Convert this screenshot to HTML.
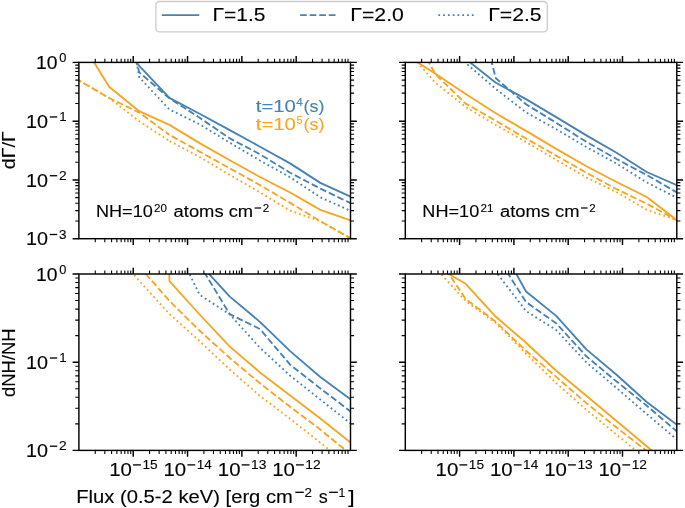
<!DOCTYPE html>
<html><head><meta charset="utf-8"><style>
html,body{margin:0;padding:0;background:#fff;width:685px;height:508px;overflow:hidden}
svg{display:block}
text{font-family:"Liberation Sans",sans-serif}
svg{will-change:transform}
</style></head><body>
<svg width="685" height="508" viewBox="0 0 685 508">
<defs>
<clipPath id="c00"><rect x="78.9" y="62.4" width="271.60" height="176.30"/></clipPath>
<clipPath id="c01"><rect x="405.3" y="62.4" width="271.50" height="176.30"/></clipPath>
<clipPath id="c10"><rect x="78.9" y="274.0" width="271.60" height="176.40"/></clipPath>
<clipPath id="c11"><rect x="405.3" y="274.0" width="271.50" height="176.40"/></clipPath>
</defs>
<path d="M109.08,27.00 L139.26,65.90 L169.43,97.90 L199.61,113.70 L229.79,130.10 L259.97,146.70 L290.14,163.40 L320.32,182.90 L350.50,196.70" fill="none" stroke="#4682b4" stroke-width="1.85" stroke-linejoin="round" stroke-linecap="butt" clip-path="url(#c00)"/>
<path d="M109.08,-39.00 L139.26,72.40 L169.43,98.30 L199.61,117.70 L229.79,138.40 L259.97,154.20 L290.14,172.70 L320.32,188.60 L350.50,203.10" fill="none" stroke="#4682b4" stroke-width="1.85" stroke-linejoin="round" stroke-linecap="butt" stroke-dasharray="6.68 2.89" stroke-dashoffset="3.875" clip-path="url(#c00)"/>
<path d="M109.08,-98.00 L139.26,77.30 L169.43,109.50 L199.61,124.30 L229.79,142.70 L259.97,160.50 L290.14,177.30 L320.32,197.30 L350.50,210.80" fill="none" stroke="#4682b4" stroke-width="1.85" stroke-linejoin="round" stroke-linecap="butt" stroke-dasharray="1.81 2.98" stroke-dashoffset="0.649" clip-path="url(#c00)"/>
<path d="M78.90,37.70 L109.08,86.70 L139.26,111.20 L169.43,124.90 L199.61,143.10 L229.79,160.30 L259.97,177.00 L290.14,192.50 L320.32,209.90 L350.50,220.40" fill="none" stroke="#f5a623" stroke-width="1.85" stroke-linejoin="round" stroke-linecap="butt" clip-path="url(#c00)"/>
<path d="M78.90,80.40 L109.08,98.00 L139.26,112.60 L169.43,134.90" fill="none" stroke="#f5a623" stroke-width="1.85" stroke-linejoin="round" stroke-linecap="butt" stroke-dasharray="6.68 2.89" stroke-dashoffset="3.996" clip-path="url(#c00)"/>
<path d="M169.43,134.90 L199.61,151.60 L229.79,168.30 L259.97,185.10 L290.14,202.90 L320.32,221.20 L350.50,238.30" fill="none" stroke="#f5a623" stroke-width="1.85" stroke-linejoin="round" stroke-linecap="butt" stroke-dasharray="6.68 2.89" stroke-dashoffset="6.979" clip-path="url(#c00)"/>
<path d="M78.90,80.40 L109.08,98.00 L139.26,121.30 L169.43,141.00" fill="none" stroke="#f5a623" stroke-width="1.85" stroke-linejoin="round" stroke-linecap="butt" stroke-dasharray="1.81 2.98" stroke-dashoffset="4.336" clip-path="url(#c00)"/>
<path d="M169.43,141.00 L199.61,157.00 L229.79,174.90 L259.97,192.40 L290.14,210.70 L320.32,221.20 L350.50,238.30" fill="none" stroke="#f5a623" stroke-width="1.85" stroke-linejoin="round" stroke-linecap="butt" stroke-dasharray="1.81 2.98" stroke-dashoffset="4.475" clip-path="url(#c00)"/>
<path d="M435.48,35.00 L465.66,58.90 L495.83,82.80 L526.01,99.10 L556.19,117.10 L586.37,135.40 L616.54,152.80 L646.72,172.00 L676.90,185.10" fill="none" stroke="#4682b4" stroke-width="1.85" stroke-linejoin="round" stroke-linecap="butt" clip-path="url(#c01)"/>
<path d="M465.66,-37.50 L495.83,78.20 L526.01,104.30 L556.19,122.80 L586.37,141.80 L616.54,159.00 L646.72,175.00 L676.90,192.50" fill="none" stroke="#4682b4" stroke-width="1.85" stroke-linejoin="round" stroke-linecap="butt" stroke-dasharray="6.68 2.89" stroke-dashoffset="5.885" clip-path="url(#c01)"/>
<path d="M435.48,-200.00 L465.66,63.00 L495.83,89.00 L526.01,112.30 L556.19,129.20 L586.37,147.00 L616.54,163.60 L646.72,182.40 L676.90,197.80" fill="none" stroke="#4682b4" stroke-width="1.85" stroke-linejoin="round" stroke-linecap="butt" stroke-dasharray="1.81 2.98" stroke-dashoffset="1.336" clip-path="url(#c01)"/>
<path d="M405.30,54.70 L435.48,73.70 L465.66,93.90 L495.83,113.30 L526.01,130.90 L556.19,148.90 L586.37,166.20 L616.54,182.00 L646.72,197.00 L676.90,220.20" fill="none" stroke="#f5a623" stroke-width="1.85" stroke-linejoin="round" stroke-linecap="butt" clip-path="url(#c01)"/>
<path d="M405.30,19.60 L435.48,74.30 L465.66,103.60 L495.83,120.80 L526.01,138.50 L556.19,155.60 L586.37,172.70 L616.54,189.20 L646.72,203.70 L676.90,220.20" fill="none" stroke="#f5a623" stroke-width="1.85" stroke-linejoin="round" stroke-linecap="butt" stroke-dasharray="6.68 2.89" stroke-dashoffset="3.319" clip-path="url(#c01)"/>
<path d="M405.30,48.50 L435.48,82.80 L465.66,106.90 L495.83,125.00 L526.01,142.00 L556.19,159.90 L586.37,177.40 L616.54,192.20 L646.72,209.80 L676.90,220.20" fill="none" stroke="#f5a623" stroke-width="1.85" stroke-linejoin="round" stroke-linecap="butt" stroke-dasharray="1.81 2.98" stroke-dashoffset="1.158" clip-path="url(#c01)"/>
<path d="M169.43,220.00 L199.61,263.70 L229.79,296.60 L259.97,321.90 L290.14,351.10 L320.32,377.00 L350.50,399.20" fill="none" stroke="#4682b4" stroke-width="1.85" stroke-linejoin="round" stroke-linecap="butt" clip-path="url(#c10)"/>
<path d="M169.43,220.00 L199.61,264.50 L229.79,314.20 L259.97,329.00 L290.14,364.70 L320.32,388.40 L350.50,411.40" fill="none" stroke="#4682b4" stroke-width="1.85" stroke-linejoin="round" stroke-linecap="butt" stroke-dasharray="6.68 2.89" stroke-dashoffset="4.737" clip-path="url(#c10)"/>
<path d="M169.43,232.60 L199.61,294.80 L229.79,314.40 L259.97,347.80 L290.14,375.60 L320.32,399.60 L350.50,423.40" fill="none" stroke="#4682b4" stroke-width="1.85" stroke-linejoin="round" stroke-linecap="butt" stroke-dasharray="1.81 2.98" stroke-dashoffset="1.329" clip-path="url(#c10)"/>
<path d="M139.26,-1000.00 L169.43,281.20 L199.61,314.50 L229.79,346.60 L259.97,372.40 L290.14,395.40 L320.32,418.50 L350.50,442.60" fill="none" stroke="#f5a623" stroke-width="1.85" stroke-linejoin="round" stroke-linecap="butt" clip-path="url(#c10)"/>
<path d="M139.26,266.50 L169.43,300.90 L199.61,330.70 L229.79,358.00 L259.97,383.30 L290.14,406.80 L320.32,429.60 L350.50,454.20" fill="none" stroke="#f5a623" stroke-width="1.85" stroke-linejoin="round" stroke-linecap="butt" stroke-dasharray="6.68 2.89" stroke-dashoffset="9.533" clip-path="url(#c10)"/>
<path d="M109.08,245.00 L139.26,281.00 L169.43,314.00 L199.61,341.20 L229.79,369.50 L259.97,396.00 L290.14,418.80 L320.32,442.70 L350.50,466.70" fill="none" stroke="#f5a623" stroke-width="1.85" stroke-linejoin="round" stroke-linecap="butt" stroke-dasharray="1.81 2.98" stroke-dashoffset="3.893" clip-path="url(#c10)"/>
<path d="M495.83,236.90 L526.01,291.50 L556.19,315.90 L586.37,349.40 L616.54,374.80 L646.72,402.00 L676.90,424.80" fill="none" stroke="#4682b4" stroke-width="1.85" stroke-linejoin="round" stroke-linecap="butt" clip-path="url(#c11)"/>
<path d="M495.83,254.30 L526.01,302.00 L556.19,323.30 L586.37,356.30 L616.54,381.50 L646.72,405.70 L676.90,431.50" fill="none" stroke="#4682b4" stroke-width="1.85" stroke-linejoin="round" stroke-linecap="butt" stroke-dasharray="6.68 2.89" stroke-dashoffset="8.153" clip-path="url(#c11)"/>
<path d="M495.83,271.80 L526.01,311.00 L556.19,330.00 L586.37,362.40 L616.54,388.00 L646.72,414.00 L676.90,439.50" fill="none" stroke="#4682b4" stroke-width="1.85" stroke-linejoin="round" stroke-linecap="butt" stroke-dasharray="1.81 2.98" stroke-dashoffset="1.707" clip-path="url(#c11)"/>
<path d="M435.48,266.40 L465.66,283.80 L495.83,316.80 L526.01,342.70 L556.19,370.70 L586.37,395.80 L616.54,421.00 L646.72,446.30 L676.90,471.60" fill="none" stroke="#f5a623" stroke-width="1.85" stroke-linejoin="round" stroke-linecap="butt" clip-path="url(#c11)"/>
<path d="M435.48,253.70 L465.66,299.00 L495.83,321.80 L526.01,350.80 L556.19,376.90 L586.37,403.10 L616.54,427.50 L646.72,451.00 L676.90,475.00" fill="none" stroke="#f5a623" stroke-width="1.85" stroke-linejoin="round" stroke-linecap="butt" stroke-dasharray="6.68 2.89" stroke-dashoffset="0.532" clip-path="url(#c11)"/>
<path d="M435.48,268.00 L465.66,301.00 L495.83,323.00 L526.01,353.50 L556.19,383.10 L586.37,409.80 L616.54,434.60 L646.72,459.50 L676.90,484.70" fill="none" stroke="#f5a623" stroke-width="1.85" stroke-linejoin="round" stroke-linecap="butt" stroke-dasharray="1.81 2.98" stroke-dashoffset="0.652" clip-path="url(#c11)"/>
<path d="M95.25,238.70v3.61M95.25,62.40v-3.61M104.82,238.70v3.61M104.82,62.40v-3.61M111.60,238.70v3.61M111.60,62.40v-3.61M116.87,238.70v3.61M116.87,62.40v-3.61M121.17,238.70v3.61M121.17,62.40v-3.61M124.81,238.70v3.61M124.81,62.40v-3.61M127.96,238.70v3.61M127.96,62.40v-3.61M130.73,238.70v3.61M130.73,62.40v-3.61M149.57,238.70v3.61M149.57,62.40v-3.61M159.14,238.70v3.61M159.14,62.40v-3.61M165.92,238.70v3.61M165.92,62.40v-3.61M171.19,238.70v3.61M171.19,62.40v-3.61M175.49,238.70v3.61M175.49,62.40v-3.61M179.13,238.70v3.61M179.13,62.40v-3.61M182.28,238.70v3.61M182.28,62.40v-3.61M185.05,238.70v3.61M185.05,62.40v-3.61M203.89,238.70v3.61M203.89,62.40v-3.61M213.46,238.70v3.61M213.46,62.40v-3.61M220.24,238.70v3.61M220.24,62.40v-3.61M225.51,238.70v3.61M225.51,62.40v-3.61M229.81,238.70v3.61M229.81,62.40v-3.61M233.45,238.70v3.61M233.45,62.40v-3.61M236.60,238.70v3.61M236.60,62.40v-3.61M239.37,238.70v3.61M239.37,62.40v-3.61M258.21,238.70v3.61M258.21,62.40v-3.61M267.78,238.70v3.61M267.78,62.40v-3.61M274.56,238.70v3.61M274.56,62.40v-3.61M279.83,238.70v3.61M279.83,62.40v-3.61M284.13,238.70v3.61M284.13,62.40v-3.61M287.77,238.70v3.61M287.77,62.40v-3.61M290.92,238.70v3.61M290.92,62.40v-3.61M293.69,238.70v3.61M293.69,62.40v-3.61M312.53,238.70v3.61M312.53,62.40v-3.61M322.10,238.70v3.61M322.10,62.40v-3.61M328.88,238.70v3.61M328.88,62.40v-3.61M334.15,238.70v3.61M334.15,62.40v-3.61M338.45,238.70v3.61M338.45,62.40v-3.61M342.09,238.70v3.61M342.09,62.40v-3.61M345.24,238.70v3.61M345.24,62.40v-3.61M348.01,238.70v3.61M348.01,62.40v-3.61M78.90,221.01h-3.61M350.50,221.01h3.61M78.90,210.66h-3.61M350.50,210.66h3.61M78.90,203.32h-3.61M350.50,203.32h3.61M78.90,197.62h-3.61M350.50,197.62h3.61M78.90,192.97h-3.61M350.50,192.97h3.61M78.90,189.04h-3.61M350.50,189.04h3.61M78.90,185.63h-3.61M350.50,185.63h3.61M78.90,182.62h-3.61M350.50,182.62h3.61M78.90,162.24h-3.61M350.50,162.24h3.61M78.90,151.89h-3.61M350.50,151.89h3.61M78.90,144.55h-3.61M350.50,144.55h3.61M78.90,138.86h-3.61M350.50,138.86h3.61M78.90,134.20h-3.61M350.50,134.20h3.61M78.90,130.27h-3.61M350.50,130.27h3.61M78.90,126.86h-3.61M350.50,126.86h3.61M78.90,123.86h-3.61M350.50,123.86h3.61M78.90,103.48h-3.61M350.50,103.48h3.61M78.90,93.13h-3.61M350.50,93.13h3.61M78.90,85.79h-3.61M350.50,85.79h3.61M78.90,80.09h-3.61M350.50,80.09h3.61M78.90,75.44h-3.61M350.50,75.44h3.61M78.90,71.50h-3.61M350.50,71.50h3.61M78.90,68.10h-3.61M350.50,68.10h3.61M78.90,65.09h-3.61M350.50,65.09h3.61M421.65,238.70v3.61M421.65,62.40v-3.61M431.21,238.70v3.61M431.21,62.40v-3.61M437.99,238.70v3.61M437.99,62.40v-3.61M443.25,238.70v3.61M443.25,62.40v-3.61M447.55,238.70v3.61M447.55,62.40v-3.61M451.19,238.70v3.61M451.19,62.40v-3.61M454.34,238.70v3.61M454.34,62.40v-3.61M457.12,238.70v3.61M457.12,62.40v-3.61M475.95,238.70v3.61M475.95,62.40v-3.61M485.51,238.70v3.61M485.51,62.40v-3.61M492.29,238.70v3.61M492.29,62.40v-3.61M497.55,238.70v3.61M497.55,62.40v-3.61M501.85,238.70v3.61M501.85,62.40v-3.61M505.49,238.70v3.61M505.49,62.40v-3.61M508.64,238.70v3.61M508.64,62.40v-3.61M511.42,238.70v3.61M511.42,62.40v-3.61M530.25,238.70v3.61M530.25,62.40v-3.61M539.81,238.70v3.61M539.81,62.40v-3.61M546.59,238.70v3.61M546.59,62.40v-3.61M551.85,238.70v3.61M551.85,62.40v-3.61M556.15,238.70v3.61M556.15,62.40v-3.61M559.79,238.70v3.61M559.79,62.40v-3.61M562.94,238.70v3.61M562.94,62.40v-3.61M565.72,238.70v3.61M565.72,62.40v-3.61M584.55,238.70v3.61M584.55,62.40v-3.61M594.11,238.70v3.61M594.11,62.40v-3.61M600.89,238.70v3.61M600.89,62.40v-3.61M606.15,238.70v3.61M606.15,62.40v-3.61M610.45,238.70v3.61M610.45,62.40v-3.61M614.09,238.70v3.61M614.09,62.40v-3.61M617.24,238.70v3.61M617.24,62.40v-3.61M620.02,238.70v3.61M620.02,62.40v-3.61M638.85,238.70v3.61M638.85,62.40v-3.61M648.41,238.70v3.61M648.41,62.40v-3.61M655.19,238.70v3.61M655.19,62.40v-3.61M660.45,238.70v3.61M660.45,62.40v-3.61M664.75,238.70v3.61M664.75,62.40v-3.61M668.39,238.70v3.61M668.39,62.40v-3.61M671.54,238.70v3.61M671.54,62.40v-3.61M674.32,238.70v3.61M674.32,62.40v-3.61M405.30,221.01h-3.61M676.80,221.01h3.61M405.30,210.66h-3.61M676.80,210.66h3.61M405.30,203.32h-3.61M676.80,203.32h3.61M405.30,197.62h-3.61M676.80,197.62h3.61M405.30,192.97h-3.61M676.80,192.97h3.61M405.30,189.04h-3.61M676.80,189.04h3.61M405.30,185.63h-3.61M676.80,185.63h3.61M405.30,182.62h-3.61M676.80,182.62h3.61M405.30,162.24h-3.61M676.80,162.24h3.61M405.30,151.89h-3.61M676.80,151.89h3.61M405.30,144.55h-3.61M676.80,144.55h3.61M405.30,138.86h-3.61M676.80,138.86h3.61M405.30,134.20h-3.61M676.80,134.20h3.61M405.30,130.27h-3.61M676.80,130.27h3.61M405.30,126.86h-3.61M676.80,126.86h3.61M405.30,123.86h-3.61M676.80,123.86h3.61M405.30,103.48h-3.61M676.80,103.48h3.61M405.30,93.13h-3.61M676.80,93.13h3.61M405.30,85.79h-3.61M676.80,85.79h3.61M405.30,80.09h-3.61M676.80,80.09h3.61M405.30,75.44h-3.61M676.80,75.44h3.61M405.30,71.50h-3.61M676.80,71.50h3.61M405.30,68.10h-3.61M676.80,68.10h3.61M405.30,65.09h-3.61M676.80,65.09h3.61M95.25,450.40v3.61M95.25,274.00v-3.61M104.82,450.40v3.61M104.82,274.00v-3.61M111.60,450.40v3.61M111.60,274.00v-3.61M116.87,450.40v3.61M116.87,274.00v-3.61M121.17,450.40v3.61M121.17,274.00v-3.61M124.81,450.40v3.61M124.81,274.00v-3.61M127.96,450.40v3.61M127.96,274.00v-3.61M130.73,450.40v3.61M130.73,274.00v-3.61M149.57,450.40v3.61M149.57,274.00v-3.61M159.14,450.40v3.61M159.14,274.00v-3.61M165.92,450.40v3.61M165.92,274.00v-3.61M171.19,450.40v3.61M171.19,274.00v-3.61M175.49,450.40v3.61M175.49,274.00v-3.61M179.13,450.40v3.61M179.13,274.00v-3.61M182.28,450.40v3.61M182.28,274.00v-3.61M185.05,450.40v3.61M185.05,274.00v-3.61M203.89,450.40v3.61M203.89,274.00v-3.61M213.46,450.40v3.61M213.46,274.00v-3.61M220.24,450.40v3.61M220.24,274.00v-3.61M225.51,450.40v3.61M225.51,274.00v-3.61M229.81,450.40v3.61M229.81,274.00v-3.61M233.45,450.40v3.61M233.45,274.00v-3.61M236.60,450.40v3.61M236.60,274.00v-3.61M239.37,450.40v3.61M239.37,274.00v-3.61M258.21,450.40v3.61M258.21,274.00v-3.61M267.78,450.40v3.61M267.78,274.00v-3.61M274.56,450.40v3.61M274.56,274.00v-3.61M279.83,450.40v3.61M279.83,274.00v-3.61M284.13,450.40v3.61M284.13,274.00v-3.61M287.77,450.40v3.61M287.77,274.00v-3.61M290.92,450.40v3.61M290.92,274.00v-3.61M293.69,450.40v3.61M293.69,274.00v-3.61M312.53,450.40v3.61M312.53,274.00v-3.61M322.10,450.40v3.61M322.10,274.00v-3.61M328.88,450.40v3.61M328.88,274.00v-3.61M334.15,450.40v3.61M334.15,274.00v-3.61M338.45,450.40v3.61M338.45,274.00v-3.61M342.09,450.40v3.61M342.09,274.00v-3.61M345.24,450.40v3.61M345.24,274.00v-3.61M348.01,450.40v3.61M348.01,274.00v-3.61M78.90,423.85h-3.61M350.50,423.85h3.61M78.90,408.32h-3.61M350.50,408.32h3.61M78.90,397.30h-3.61M350.50,397.30h3.61M78.90,388.75h-3.61M350.50,388.75h3.61M78.90,381.77h-3.61M350.50,381.77h3.61M78.90,375.86h-3.61M350.50,375.86h3.61M78.90,370.75h-3.61M350.50,370.75h3.61M78.90,366.24h-3.61M350.50,366.24h3.61M78.90,335.65h-3.61M350.50,335.65h3.61M78.90,320.12h-3.61M350.50,320.12h3.61M78.90,309.10h-3.61M350.50,309.10h3.61M78.90,300.55h-3.61M350.50,300.55h3.61M78.90,293.57h-3.61M350.50,293.57h3.61M78.90,287.66h-3.61M350.50,287.66h3.61M78.90,282.55h-3.61M350.50,282.55h3.61M78.90,278.04h-3.61M350.50,278.04h3.61M421.65,450.40v3.61M421.65,274.00v-3.61M431.21,450.40v3.61M431.21,274.00v-3.61M437.99,450.40v3.61M437.99,274.00v-3.61M443.25,450.40v3.61M443.25,274.00v-3.61M447.55,450.40v3.61M447.55,274.00v-3.61M451.19,450.40v3.61M451.19,274.00v-3.61M454.34,450.40v3.61M454.34,274.00v-3.61M457.12,450.40v3.61M457.12,274.00v-3.61M475.95,450.40v3.61M475.95,274.00v-3.61M485.51,450.40v3.61M485.51,274.00v-3.61M492.29,450.40v3.61M492.29,274.00v-3.61M497.55,450.40v3.61M497.55,274.00v-3.61M501.85,450.40v3.61M501.85,274.00v-3.61M505.49,450.40v3.61M505.49,274.00v-3.61M508.64,450.40v3.61M508.64,274.00v-3.61M511.42,450.40v3.61M511.42,274.00v-3.61M530.25,450.40v3.61M530.25,274.00v-3.61M539.81,450.40v3.61M539.81,274.00v-3.61M546.59,450.40v3.61M546.59,274.00v-3.61M551.85,450.40v3.61M551.85,274.00v-3.61M556.15,450.40v3.61M556.15,274.00v-3.61M559.79,450.40v3.61M559.79,274.00v-3.61M562.94,450.40v3.61M562.94,274.00v-3.61M565.72,450.40v3.61M565.72,274.00v-3.61M584.55,450.40v3.61M584.55,274.00v-3.61M594.11,450.40v3.61M594.11,274.00v-3.61M600.89,450.40v3.61M600.89,274.00v-3.61M606.15,450.40v3.61M606.15,274.00v-3.61M610.45,450.40v3.61M610.45,274.00v-3.61M614.09,450.40v3.61M614.09,274.00v-3.61M617.24,450.40v3.61M617.24,274.00v-3.61M620.02,450.40v3.61M620.02,274.00v-3.61M638.85,450.40v3.61M638.85,274.00v-3.61M648.41,450.40v3.61M648.41,274.00v-3.61M655.19,450.40v3.61M655.19,274.00v-3.61M660.45,450.40v3.61M660.45,274.00v-3.61M664.75,450.40v3.61M664.75,274.00v-3.61M668.39,450.40v3.61M668.39,274.00v-3.61M671.54,450.40v3.61M671.54,274.00v-3.61M674.32,450.40v3.61M674.32,274.00v-3.61M405.30,423.85h-3.61M676.80,423.85h3.61M405.30,408.32h-3.61M676.80,408.32h3.61M405.30,397.30h-3.61M676.80,397.30h3.61M405.30,388.75h-3.61M676.80,388.75h3.61M405.30,381.77h-3.61M676.80,381.77h3.61M405.30,375.86h-3.61M676.80,375.86h3.61M405.30,370.75h-3.61M676.80,370.75h3.61M405.30,366.24h-3.61M676.80,366.24h3.61M405.30,335.65h-3.61M676.80,335.65h3.61M405.30,320.12h-3.61M676.80,320.12h3.61M405.30,309.10h-3.61M676.80,309.10h3.61M405.30,300.55h-3.61M676.80,300.55h3.61M405.30,293.57h-3.61M676.80,293.57h3.61M405.30,287.66h-3.61M676.80,287.66h3.61M405.30,282.55h-3.61M676.80,282.55h3.61M405.30,278.04h-3.61M676.80,278.04h3.61" stroke="#000" stroke-width="1.08" fill="none"/>
<path d="M133.22,238.70v6.32M133.22,62.40v-6.32M187.54,238.70v6.32M187.54,62.40v-6.32M241.86,238.70v6.32M241.86,62.40v-6.32M296.18,238.70v6.32M296.18,62.40v-6.32M78.90,238.70h-6.32M350.50,238.70h6.32M78.90,179.93h-6.32M350.50,179.93h6.32M78.90,121.17h-6.32M350.50,121.17h6.32M78.90,62.40h-6.32M350.50,62.40h6.32M459.60,238.70v6.32M459.60,62.40v-6.32M513.90,238.70v6.32M513.90,62.40v-6.32M568.20,238.70v6.32M568.20,62.40v-6.32M622.50,238.70v6.32M622.50,62.40v-6.32M405.30,238.70h-6.32M676.80,238.70h6.32M405.30,179.93h-6.32M676.80,179.93h6.32M405.30,121.17h-6.32M676.80,121.17h6.32M405.30,62.40h-6.32M676.80,62.40h6.32M133.22,450.40v6.32M133.22,274.00v-6.32M187.54,450.40v6.32M187.54,274.00v-6.32M241.86,450.40v6.32M241.86,274.00v-6.32M296.18,450.40v6.32M296.18,274.00v-6.32M78.90,450.40h-6.32M350.50,450.40h6.32M78.90,362.20h-6.32M350.50,362.20h6.32M78.90,274.00h-6.32M350.50,274.00h6.32M459.60,450.40v6.32M459.60,274.00v-6.32M513.90,450.40v6.32M513.90,274.00v-6.32M568.20,450.40v6.32M568.20,274.00v-6.32M622.50,450.40v6.32M622.50,274.00v-6.32M405.30,450.40h-6.32M676.80,450.40h6.32M405.30,362.20h-6.32M676.80,362.20h6.32M405.30,274.00h-6.32M676.80,274.00h6.32" stroke="#000" stroke-width="1.44" fill="none"/>
<rect x="78.9" y="62.4" width="271.60" height="176.30" fill="none" stroke="#000" stroke-width="1.44" stroke-linejoin="miter"/>
<rect x="405.3" y="62.4" width="271.50" height="176.30" fill="none" stroke="#000" stroke-width="1.44" stroke-linejoin="miter"/>
<rect x="78.9" y="274.0" width="271.60" height="176.40" fill="none" stroke="#000" stroke-width="1.44" stroke-linejoin="miter"/>
<rect x="405.3" y="274.0" width="271.50" height="176.40" fill="none" stroke="#000" stroke-width="1.44" stroke-linejoin="miter"/>
<text transform="translate(36.07,68.90) scale(1.0432,1)" font-size="18.5" fill="#000" stroke="#000" stroke-width="0.12">10</text>
<text transform="translate(59.25,62.30) scale(0.9920,1)" font-size="12.95" fill="#000" stroke="#000" stroke-width="0.12">0</text>
<text transform="translate(25.93,127.77) scale(1.0703,1)" font-size="18.5" fill="#000" stroke="#000" stroke-width="0.12">10</text>
<rect x="49.80" y="116.32" width="7.40" height="1.3" fill="#000"/>
<text transform="translate(59.24,121.17) scale(1.0133,1)" font-size="12.95" fill="#000" stroke="#000" stroke-width="0.12">1</text>
<text transform="translate(25.93,186.53) scale(1.0703,1)" font-size="18.5" fill="#000" stroke="#000" stroke-width="0.12">10</text>
<rect x="49.80" y="175.08" width="7.40" height="1.3" fill="#000"/>
<text transform="translate(58.88,179.93) scale(1.0667,1)" font-size="12.95" fill="#000" stroke="#000" stroke-width="0.12">2</text>
<text transform="translate(25.93,245.30) scale(1.0703,1)" font-size="18.5" fill="#000" stroke="#000" stroke-width="0.12">10</text>
<rect x="49.80" y="233.85" width="7.40" height="1.3" fill="#000"/>
<text transform="translate(59.03,238.70) scale(1.0449,1)" font-size="12.95" fill="#000" stroke="#000" stroke-width="0.12">3</text>
<text transform="translate(36.07,280.50) scale(1.0432,1)" font-size="18.5" fill="#000" stroke="#000" stroke-width="0.12">10</text>
<text transform="translate(59.25,273.90) scale(0.9920,1)" font-size="12.95" fill="#000" stroke="#000" stroke-width="0.12">0</text>
<text transform="translate(25.93,368.80) scale(1.0703,1)" font-size="18.5" fill="#000" stroke="#000" stroke-width="0.12">10</text>
<rect x="49.80" y="357.35" width="7.40" height="1.3" fill="#000"/>
<text transform="translate(59.24,362.20) scale(1.0133,1)" font-size="12.95" fill="#000" stroke="#000" stroke-width="0.12">1</text>
<text transform="translate(25.93,457.00) scale(1.0703,1)" font-size="18.5" fill="#000" stroke="#000" stroke-width="0.12">10</text>
<rect x="49.80" y="445.55" width="7.40" height="1.3" fill="#000"/>
<text transform="translate(58.88,450.40) scale(1.0667,1)" font-size="12.95" fill="#000" stroke="#000" stroke-width="0.12">2</text>
<text transform="translate(109.20,476.00) scale(1.1027,1)" font-size="18.5" fill="#000" stroke="#000" stroke-width="0.12">10</text>
<rect x="133.02" y="464.25" width="7.90" height="1.3" fill="#000"/>
<text transform="translate(142.41,468.90) scale(1.0563,1)" font-size="12.95" fill="#000" stroke="#000" stroke-width="0.12">15</text>
<text transform="translate(163.52,476.00) scale(1.1027,1)" font-size="18.5" fill="#000" stroke="#000" stroke-width="0.12">10</text>
<rect x="187.34" y="464.25" width="7.90" height="1.3" fill="#000"/>
<text transform="translate(196.74,468.90) scale(1.0462,1)" font-size="12.95" fill="#000" stroke="#000" stroke-width="0.12">14</text>
<text transform="translate(217.84,476.00) scale(1.1027,1)" font-size="18.5" fill="#000" stroke="#000" stroke-width="0.12">10</text>
<rect x="241.66" y="464.25" width="7.90" height="1.3" fill="#000"/>
<text transform="translate(251.04,468.90) scale(1.0667,1)" font-size="12.95" fill="#000" stroke="#000" stroke-width="0.12">13</text>
<text transform="translate(272.16,476.00) scale(1.1027,1)" font-size="18.5" fill="#000" stroke="#000" stroke-width="0.12">10</text>
<rect x="295.98" y="464.25" width="7.90" height="1.3" fill="#000"/>
<text transform="translate(305.36,468.90) scale(1.0667,1)" font-size="12.95" fill="#000" stroke="#000" stroke-width="0.12">12</text>
<text transform="translate(435.58,476.00) scale(1.1027,1)" font-size="18.5" fill="#000" stroke="#000" stroke-width="0.12">10</text>
<rect x="459.40" y="464.25" width="7.90" height="1.3" fill="#000"/>
<text transform="translate(468.79,468.90) scale(1.0563,1)" font-size="12.95" fill="#000" stroke="#000" stroke-width="0.12">15</text>
<text transform="translate(489.88,476.00) scale(1.1027,1)" font-size="18.5" fill="#000" stroke="#000" stroke-width="0.12">10</text>
<rect x="513.70" y="464.25" width="7.90" height="1.3" fill="#000"/>
<text transform="translate(523.10,468.90) scale(1.0462,1)" font-size="12.95" fill="#000" stroke="#000" stroke-width="0.12">14</text>
<text transform="translate(544.18,476.00) scale(1.1027,1)" font-size="18.5" fill="#000" stroke="#000" stroke-width="0.12">10</text>
<rect x="568.00" y="464.25" width="7.90" height="1.3" fill="#000"/>
<text transform="translate(577.38,468.90) scale(1.0667,1)" font-size="12.95" fill="#000" stroke="#000" stroke-width="0.12">13</text>
<text transform="translate(598.48,476.00) scale(1.1027,1)" font-size="18.5" fill="#000" stroke="#000" stroke-width="0.12">10</text>
<rect x="622.30" y="464.25" width="7.90" height="1.3" fill="#000"/>
<text transform="translate(631.68,468.90) scale(1.0667,1)" font-size="12.95" fill="#000" stroke="#000" stroke-width="0.12">12</text>
<text transform="translate(14.80,169.20) rotate(-90) scale(1.0609,1)" font-size="18.5" fill="#000" stroke="#000" stroke-width="0.12">dΓ/Γ</text>
<text transform="translate(15.30,397.05) rotate(-90) scale(0.9981,1)" font-size="18.5" fill="#000" stroke="#000" stroke-width="0.12">dNH/NH</text>
<text transform="translate(76.26,502.80) scale(1.0927,1)" font-size="18.5" fill="#000" stroke="#000" stroke-width="0.12">Flux (0.5-2 keV) [erg cm</text>
<rect x="295.30" y="491.65" width="8.50" height="1.3" fill="#000"/>
<text transform="translate(304.50,496.70) scale(1.0333,1)" font-size="12.95" fill="#000" stroke="#000" stroke-width="0.12">2</text>
<text transform="translate(318.71,502.80) scale(0.9723,1)" font-size="18.5" fill="#000" stroke="#000" stroke-width="0.12">s</text>
<rect x="329.10" y="491.65" width="8.80" height="1.3" fill="#000"/>
<text transform="translate(338.61,496.70) scale(0.9422,1)" font-size="12.95" fill="#000" stroke="#000" stroke-width="0.12">1</text>
<text transform="translate(348.24,502.80) scale(1.2533,1)" font-size="18.5" fill="#000" stroke="#000" stroke-width="0.12">]</text>
<text transform="translate(95.93,217.30) scale(1.0886,1)" font-size="16.65" fill="#000" stroke="#000" stroke-width="0.12">NH=10</text>
<text transform="translate(154.10,211.60) scale(0.9937,1)" font-size="11.65" fill="#000" stroke="#000" stroke-width="0.12">20</text>
<text transform="translate(173.60,217.30) scale(1.1027,1)" font-size="16.65" fill="#000" stroke="#000" stroke-width="0.12">atoms cm</text>
<rect x="254.60" y="207.40" width="6.60" height="1.2" fill="#000"/>
<text transform="translate(262.81,211.60) scale(0.9905,1)" font-size="11.65" fill="#000" stroke="#000" stroke-width="0.12">2</text>
<text transform="translate(422.33,217.30) scale(1.0886,1)" font-size="16.65" fill="#000" stroke="#000" stroke-width="0.12">NH=10</text>
<text transform="translate(480.50,211.60) scale(1.0043,1)" font-size="11.65" fill="#000" stroke="#000" stroke-width="0.12">21</text>
<text transform="translate(500.00,217.30) scale(1.1027,1)" font-size="16.65" fill="#000" stroke="#000" stroke-width="0.12">atoms cm</text>
<rect x="581.00" y="207.40" width="6.60" height="1.2" fill="#000"/>
<text transform="translate(589.21,211.60) scale(0.9905,1)" font-size="11.65" fill="#000" stroke="#000" stroke-width="0.12">2</text>
<text transform="translate(255.83,111.80) scale(1.2188,1)" font-size="16.65" fill="#4682b4" stroke="#4682b4" stroke-width="0.12">t=10</text>
<text transform="translate(296.17,105.50) scale(1.0043,1)" font-size="11.65" fill="#4682b4" stroke="#4682b4" stroke-width="0.12">4</text>
<text transform="translate(303.55,111.80) scale(1.0763,1)" font-size="16.65" fill="#4682b4" stroke="#4682b4" stroke-width="0.12">(s)</text>
<text transform="translate(255.83,129.50) scale(1.2188,1)" font-size="16.65" fill="#f5a623" stroke="#f5a623" stroke-width="0.12">t=10</text>
<text transform="translate(296.46,123.70) scale(0.9273,1)" font-size="11.65" fill="#f5a623" stroke="#f5a623" stroke-width="0.12">5</text>
<text transform="translate(303.55,129.50) scale(1.0763,1)" font-size="16.65" fill="#f5a623" stroke="#f5a623" stroke-width="0.12">(s)</text>
<rect x="155.9" y="1.5" width="391.4" height="30.4" rx="3.6" ry="3.6" fill="#fff" fill-opacity="0.8" stroke="#cccccc" stroke-width="1.3"/>
<line x1="162.7" y1="15.1" x2="198.3" y2="15.1" stroke="#4682b4" stroke-width="1.85" stroke-linecap="square"/>
<line x1="300.1" y1="15.1" x2="336.2" y2="15.1" stroke="#4682b4" stroke-width="1.85" stroke-dasharray="6.68 2.89"/>
<line x1="438.3" y1="15.1" x2="474.4" y2="15.1" stroke="#4682b4" stroke-width="1.85" stroke-dasharray="1.81 2.98"/>
<text transform="translate(212.50,21.30) scale(1.1358,1)" font-size="18.5" fill="#000" stroke="#000" stroke-width="0.12">Γ=1.5</text>
<text transform="translate(350.28,21.40) scale(1.1483,1)" font-size="18.5" fill="#000" stroke="#000" stroke-width="0.12">Γ=2.0</text>
<text transform="translate(488.18,21.40) scale(1.1448,1)" font-size="18.5" fill="#000" stroke="#000" stroke-width="0.12">Γ=2.5</text>
</svg>
</body></html>
